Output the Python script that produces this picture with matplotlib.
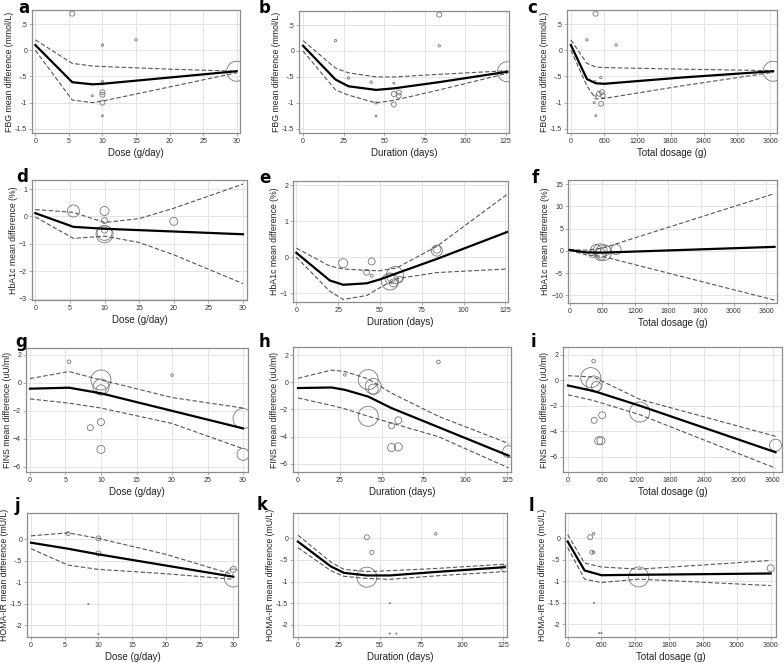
import numpy as np
import matplotlib
matplotlib.use("Agg")
import matplotlib.pyplot as plt

plt.rcParams['font.family'] = ['Liberation Sans', 'DejaVu Sans']

# ---- data (x nodes, fitted curve, upper / lower CI) ----
# row 1: FBG
a_x = [0, 5.5, 8.5, 10, 20, 30]
a_fit = [0.1, -0.61, -0.65, -0.64, -0.52, -0.4]
a_hi = [0.2, -0.25, -0.3, -0.31, -0.36, -0.4]
a_lo = [0.0, -0.95, -1.0, -0.97, -0.7, -0.43]
a_px = [5.5, 10, 15, 10, 10, 10, 10, 10, 8.5, 30]
a_py = [0.7, 0.1, 0.2, -0.6, -0.8, -0.85, -1.0, -1.25, -0.87, -0.4]
a_w = [2.5, 1.2, 1.2, 1.2, 2.5, 2.5, 2.5, 1, 1, 10]

b_x = [0, 20, 28, 45, 56, 84, 126]
b_fit = [0.1, -0.55, -0.68, -0.75, -0.72, -0.6, -0.4]
b_hi = [0.2, -0.33, -0.42, -0.5, -0.5, -0.45, -0.38]
b_lo = [0.0, -0.75, -0.85, -1.0, -0.95, -0.75, -0.43]
b_px = [20, 28, 42, 45, 45, 56, 56, 59, 59, 56, 84, 84, 126]
b_py = [0.2, -0.52, -0.6, -1.0, -1.25, -0.62, -0.83, -0.8, -0.86, -1.03, 0.7, 0.1, -0.4]
b_w = [1.2, 1.2, 1.2, 1.2, 1, 1, 2.5, 2.5, 2.5, 2.5, 2.5, 1.2, 10]

c_x = [0, 290, 450, 600, 2000, 3650]
c_fit = [0.1, -0.55, -0.63, -0.64, -0.52, -0.4]
c_hi = [0.2, -0.25, -0.32, -0.33, -0.36, -0.39]
c_lo = [0.0, -0.68, -0.93, -0.92, -0.68, -0.42]
c_px = [445, 290, 815, 540, 430, 510, 560, 575, 450, 420, 545, 450, 3650]
c_py = [0.7, 0.2, 0.1, -0.52, -0.6, -0.83, -0.8, -0.86, -0.87, -1.0, -1.02, -1.25, -0.4]
c_w = [2.5, 1.2, 1.2, 1.2, 1.2, 2.5, 2.5, 2.5, 1, 1, 2.5, 1, 10]

# row 2: HbA1c
d_x = [0, 5.5, 10, 15, 20, 30]
d_fit = [0.12, -0.38, -0.45, -0.5, -0.55, -0.65]
d_hi = [0.25, 0.15, -0.22, -0.08, 0.3, 1.18]
d_lo = [-0.02, -0.8, -0.72, -0.95, -1.4, -2.45]
d_px = [5.5, 10, 10, 10, 10, 10, 20]
d_py = [0.2, 0.2, -0.15, -0.5, -0.6, -0.65, -0.18]
d_w = [6, 4.5, 3, 3, 7.5, 8.5, 4]

e_x = [0, 20, 28, 42, 50, 60, 84, 126]
e_fit = [0.12, -0.65, -0.77, -0.73, -0.62, -0.45, -0.05, 0.7]
e_hi = [0.25, -0.25, -0.33, -0.37, -0.38, -0.3, 0.3, 1.75]
e_lo = [0.0, -0.95, -1.18, -1.07, -0.85, -0.6, -0.43, -0.33]
e_px = [28, 45, 42, 45, 56, 59, 56, 58, 62, 84, 84]
e_py = [-0.17, -0.12, -0.42, -0.52, -0.68, -0.5, -0.6, -0.72, -0.62, 0.18, 0.22]
e_w = [4.5, 3.5, 3, 1.5, 8.5, 8.5, 5, 4, 3, 5.5, 4]

f_x = [0, 300, 600, 3750]
f_fit = [0.2, -0.35, -0.4, 0.9]
f_hi = [0.25, 0.15, 0.6, 12.9]
f_lo = [0.1, -0.9, -1.25, -11.1]
f_px = [480, 420, 560, 620, 660, 560, 850]
f_py = [0.3, -0.6, 0.0, -0.4, 0.1, -0.8, 0.3]
f_w = [5, 4, 7, 8, 5, 6, 5]

# row 3: FINS
g_x = [0, 5.5, 10, 20, 30]
g_fit = [-0.42, -0.35, -0.75, -2.0, -3.25]
g_hi = [0.3, 0.8, 0.2, -1.05, -1.8]
g_lo = [-1.15, -1.45, -1.8, -2.9, -4.7]
g_px = [5.5, 10, 10, 10, 20, 8.5, 10, 10, 30, 30]
g_py = [1.5, 0.2, -0.3, -0.5, 0.55, -3.2, -2.8, -4.75, -2.55, -5.1]
g_w = [1.8, 10, 8, 5, 1.3, 3, 3.5, 4, 10, 6]

h_x = [0, 20, 28, 42, 56, 84, 126]
h_fit = [-0.42, -0.38, -0.55, -1.05, -1.9, -3.3, -5.4]
h_hi = [0.3, 0.9, 0.8, 0.25, -0.8, -2.5, -4.5]
h_lo = [-1.15, -1.7, -1.95, -2.5, -3.0, -4.0, -6.3]
h_px = [28, 42, 45, 45, 42, 56, 60, 56, 60, 84, 126]
h_py = [0.55, 0.2, -0.3, -0.5, -2.5, -3.2, -2.8, -4.8, -4.75, 1.5, -5.1]
h_w = [1.3, 10, 8, 5, 10, 3, 3.5, 4, 4, 1.8, 6]

i_x = [0, 450, 1260, 3650]
i_fit = [-0.42, -0.85, -2.0, -5.65]
i_hi = [0.35, 0.25, -1.5, -4.4]
i_lo = [-1.15, -1.6, -2.7, -6.9]
i_px = [450, 400, 460, 500, 460, 600, 540, 580, 1260, 3650]
i_py = [1.5, 0.2, -0.3, -0.5, -3.15, -2.75, -4.75, -4.75, -2.5, -5.1]
i_w = [1.8, 10, 8, 5, 3, 3.5, 4, 4, 10, 6]

# row 4: HOMA-IR
j_x = [0, 5.5, 10, 20, 30]
j_fit = [-0.08, -0.22, -0.35, -0.61, -0.87]
j_hi = [0.08, 0.15, 0.02, -0.35, -0.82]
j_lo = [-0.22, -0.6, -0.7, -0.8, -0.93]
j_px = [5.5, 10, 10, 8.5, 10, 30, 30]
j_py = [0.13, 0.02, -0.33, -1.5, -2.2, -0.7, -0.9]
j_w = [2, 2.5, 2.5, 0.6, 0.6, 3, 9]

k_x = [0, 20, 28, 42, 56, 84, 126]
k_fit = [-0.08, -0.65, -0.8, -0.86, -0.86, -0.78, -0.67]
k_hi = [0.07, -0.55, -0.72, -0.77, -0.75, -0.7, -0.6]
k_lo = [-0.22, -0.75, -0.88, -0.93, -0.95, -0.87, -0.77]
k_px = [42, 45, 84, 56, 56, 60, 42, 126]
k_py = [0.02, -0.33, 0.1, -1.5, -2.2, -2.2, -0.9, -0.7]
k_w = [2.5, 2, 1.3, 0.6, 0.6, 0.6, 10, 3.5]

l_x = [0, 300, 600, 1260, 3600]
l_fit = [-0.08, -0.75, -0.86, -0.85, -0.82]
l_hi = [0.08, -0.58, -0.67, -0.72, -0.52]
l_lo = [-0.22, -0.95, -1.03, -0.95, -1.1]
l_px = [400, 460, 430, 460, 470, 560, 600, 1260, 3600]
l_py = [0.02, 0.1, -0.33, -0.33, -1.5, -2.2, -2.2, -0.9, -0.7]
l_w = [2.5, 1.3, 2, 1.3, 0.6, 0.6, 0.6, 10, 3.5]

# ---- axis texts ----
ylab_fbg = "FBG mean difference (mmol/L)"
ylab_hba = "HbA1c mean difference (%)"
ylab_fins = "FINS mean difference (uU/ml)"
ylab_homa = "HOMA-IR mean difference (mU/L)"
xlab_dose = "Dose (g/day)"
xlab_dur = "Duration (days)"
xlab_tot = "Total dosage (g)"

xt_dose = [0, 5, 10, 15, 20, 25, 30]
xt_dur = [0, 25, 50, 75, 100, 125]
xt_tot = [0, 600, 1200, 1800, 2400, 3000, 3600]

yt_fbg = [-1.5, -1, -0.5, 0, 0.5]
yl_fbg = ['-1.5', '-1', '-.5', '0', '.5']
yt_d = [-3, -2, -1, 0, 1]
yt_e = [-1, 0, 1, 2]
yt_f = [-10, -5, 0, 5, 10, 15]
yt_fins = [-6, -4, -2, 0, 2]
yt_homa = [-2, -1.5, -1, -0.5, 0]
yl_homa = ['-2', '-1.5', '-1', '-.5', '0']

W, H = 784, 664
fig = plt.figure(figsize=(W / 100, H / 100), dpi=100)

# (letter, data, xlabel, ylabel, xticks, yticks, yticklabels, xlim, ylim, box px (l, t, r, b), letter px)
panels = [
    ('a', (a_x, a_fit, a_hi, a_lo, a_px, a_py, a_w), xlab_dose, ylab_fbg, xt_dose, yt_fbg, yl_fbg,
     (-0.5, 30.5), (-1.58, 0.77), (32, 10, 240, 133), (18, 8)),
    ('b', (b_x, b_fit, b_hi, b_lo, b_px, b_py, b_w), xlab_dur, ylab_fbg, xt_dur, yt_fbg, yl_fbg,
     (-2.5, 127), (-1.58, 0.77), (299, 11, 509, 133), (259, 8)),
    ('c', (c_x, c_fit, c_hi, c_lo, c_px, c_py, c_w), xlab_tot, ylab_fbg, xt_tot, yt_fbg, yl_fbg,
     (-70, 3720), (-1.58, 0.77), (567, 10, 777, 133), (527, 8)),
    ('d', (d_x, d_fit, d_hi, d_lo, d_px, d_py, d_w), xlab_dose, ylab_hba, xt_dose, yt_d, None,
     (-0.48, 30.58), (-3.05, 1.33), (32, 180, 247, 300), (16, 177)),
    ('e', (e_x, e_fit, e_hi, e_lo, e_px, e_py, e_w), xlab_dur, ylab_hba, xt_dur, yt_e, None,
     (-2, 126.5), (-1.25, 2.12), (293, 181, 508, 302), (259, 178)),
    ('f', (f_x, f_fit, f_hi, f_lo, f_px, f_py, f_w), xlab_tot, ylab_hba, xt_tot, yt_f, None,
     (-30, 3795), (-11.75, 15.97), (568, 180, 777, 303), (532, 178)),
    ('g', (g_x, g_fit, g_hi, g_lo, g_px, g_py, g_w), xlab_dose, ylab_fins, xt_dose, yt_fins, None,
     (-0.56, 30.7), (-6.36, 2.48), (26, 348, 248, 472), (15, 342)),
    ('h', (h_x, h_fit, h_hi, h_lo, h_px, h_py, h_w), xlab_dur, ylab_fins, xt_dur, yt_fins, None,
     (-3, 127.4), (-6.6, 2.6), (293, 347, 511, 472), (259, 342)),
    ('i', (i_x, i_fit, i_hi, i_lo, i_px, i_py, i_w), xlab_tot, ylab_fins, xt_tot, yt_fins, None,
     (-88, 3764), (-7.2, 2.6), (563, 347, 782, 472), (531, 342)),
    ('j', (j_x, j_fit, j_hi, j_lo, j_px, j_py, j_w), xlab_dose, ylab_homa, xt_dose, yt_homa, yl_homa,
     (-0.6, 30.7), (-2.27, 0.61), (27, 513, 238, 637), (15, 506)),
    ('k', (k_x, k_fit, k_hi, k_lo, k_px, k_py, k_w), xlab_dur, ylab_homa, xt_dur, yt_homa, yl_homa,
     (-3, 127.4), (-2.28, 0.58), (293, 513, 507, 637), (257, 505)),
    ('l', (l_x, l_fit, l_hi, l_lo, l_px, l_py, l_w), xlab_tot, ylab_homa, xt_tot, yt_homa, yl_homa,
     (-47, 3694), (-2.29, 0.58), (565, 513, 776, 637), (529, 506)),
]

frame_col = '#8c8c8c'
for letter, dat, xlab, ylab, xt, yt, ytl, xl, yl, box, lpos in panels:
    x, fit, hi, lo, px, py, w = dat
    l, t, r, b = box
    ax = fig.add_axes([l / W, 1 - b / H, (r - l) / W, (b - t) / H])
    ax.set_xlim(*xl)
    ax.set_ylim(*yl)
    ax.set_xticks(xt)
    ax.set_yticks(yt)
    if ytl is not None:
        ax.set_yticklabels(ytl)
    ax.grid(True, color='#e4e4e4', lw=0.7)
    ax.set_axisbelow(True)
    for s in ax.spines.values():
        s.set_color(frame_col)
        s.set_linewidth(0.9)
    ax.tick_params(labelsize=5, colors='#333333', length=2, width=0.5, pad=1.5)
    ax.tick_params(color=frame_col)

    # weights -> marker area (radius in px)
    sizes = [(2 * wi * 0.72) ** 2 for wi in w]
    ax.scatter(px, py, s=sizes, facecolors='none', edgecolors='#777777', linewidths=0.6, zorder=2)
    ax.plot(x, hi, color='#555555', lw=0.8, ls=(0, (4, 2)), zorder=3)
    ax.plot(x, lo, color='#555555', lw=0.8, ls=(0, (4, 2)), zorder=3)
    ax.plot(x, fit, color='black', lw=1.6, zorder=4)

    ax.set_xlabel(xlab, fontsize=7, color='#222222', labelpad=2)
    ax.set_ylabel(ylab, fontsize=6.3, color='#222222', labelpad=1)

    fig.text(lpos[0] / W, 1 - lpos[1] / H, letter, fontsize=12, fontweight='bold',
             ha='left', va='center', family='DejaVu Sans')

fig.savefig('out.png', dpi=100)
